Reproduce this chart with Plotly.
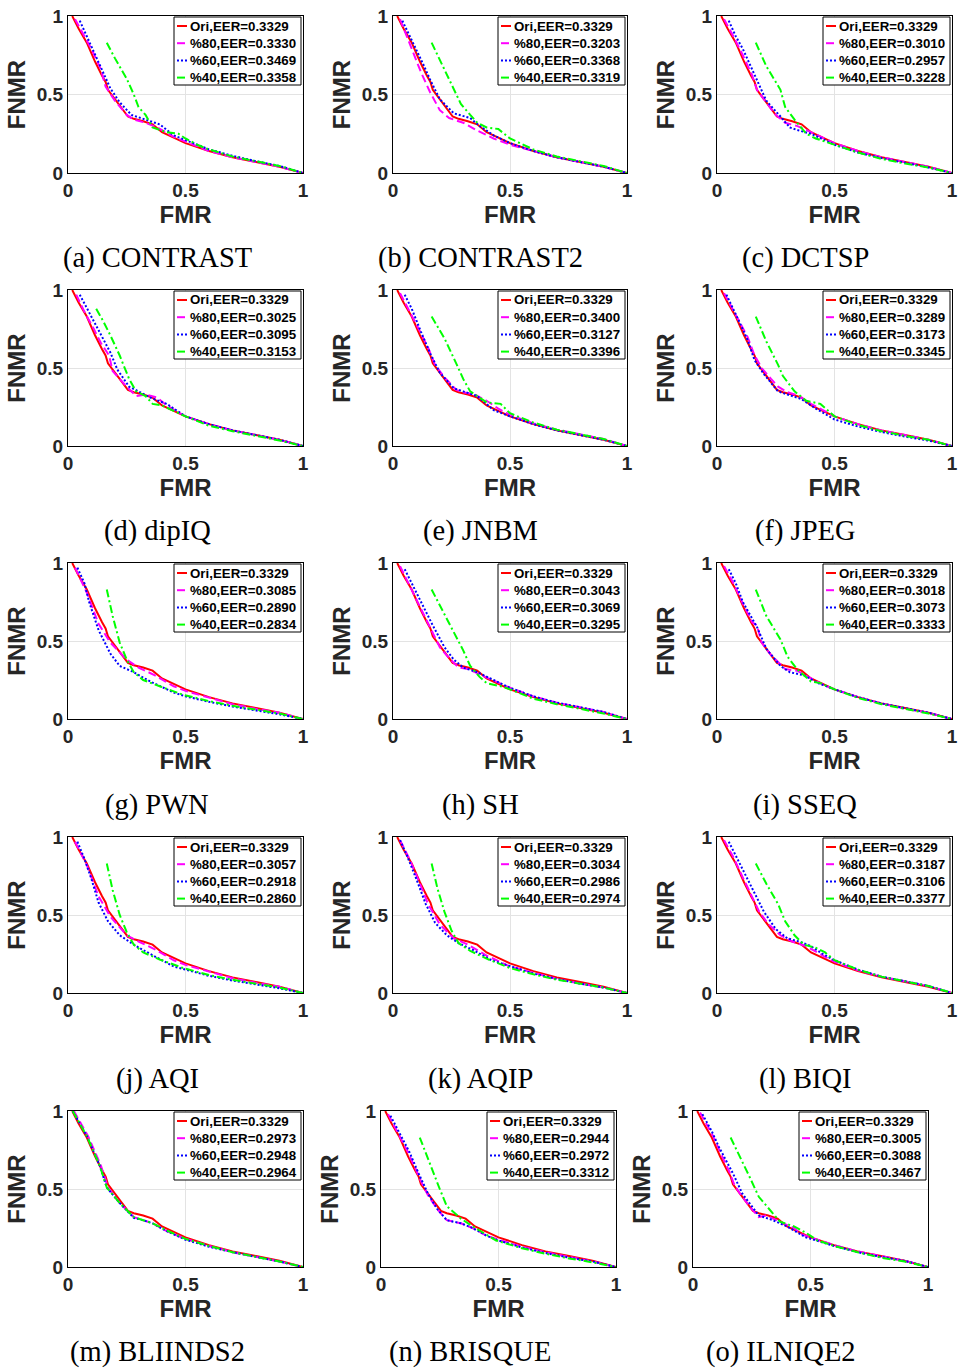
import plotly.graph_objects as go

# ---------------- data ----------------
PANELS = ["(a) CONTRAST", "(b) CONTRAST2", "(c) DCTSP", "(d) dipIQ", "(e) JNBM", "(f) JPEG",
          "(g) PWN", "(h) SH", "(i) SSEQ", "(j) AQI", "(k) AQIP", "(l) BIQI",
          "(m) BLIINDS2", "(n) BRISQUE", "(o) ILNIQE2"]
SERIES = ["Ori", "%80", "%60", "%40"]
EER_ORI = "0.3329"
EER_80 = ["0.3330", "0.3203", "0.3010", "0.3025", "0.3400", "0.3289", "0.3085", "0.3043", "0.3018",
          "0.3057", "0.3034", "0.3187", "0.2973", "0.2944", "0.3005"]
EER_60 = ["0.3469", "0.3368", "0.2957", "0.3095", "0.3127", "0.3173", "0.2890", "0.3069", "0.3073",
          "0.2918", "0.2986", "0.3106", "0.2948", "0.2972", "0.3088"]
EER_40 = ["0.3358", "0.3319", "0.3228", "0.3153", "0.3396", "0.3345", "0.2834", "0.3295", "0.3333",
          "0.2860", "0.2974", "0.3377", "0.2964", "0.3312", "0.3467"]
TICKS = [0, 0.5, 1]
TICK_TEXT = ["0", "0.5", "1"]

# Original curve (same in every panel)
ORI_X = [0.018, 0.045, 0.08, 0.115, 0.145, 0.16, 0.17, 0.20, 0.255, 0.28, 0.32, 0.36, 0.40, 0.45, 0.50, 0.60, 0.70, 0.80, 0.90, 1.0]
ORI_Y = [1.0, 0.92, 0.83, 0.71, 0.62, 0.58, 0.53, 0.47, 0.36, 0.345, 0.33, 0.31, 0.26, 0.225, 0.19, 0.14, 0.10, 0.07, 0.04, 0.0]

# (a) CONTRAST
A80_X = [0.03, 0.06, 0.1, 0.14, 0.16, 0.2, 0.25, 0.28, 0.33, 0.38, 0.45, 0.5, 0.6, 0.7, 0.8, 0.9, 1.0]
A80_Y = [0.98, 0.90, 0.79, 0.66, 0.55, 0.46, 0.37, 0.34, 0.32, 0.29, 0.23, 0.20, 0.14, 0.10, 0.07, 0.04, 0.0]
A60_X = [0.05, 0.08, 0.12, 0.16, 0.18, 0.22, 0.27, 0.33, 0.39, 0.45, 0.5, 0.6, 0.7, 0.8, 0.9, 1.0]
A60_Y = [0.97, 0.87, 0.74, 0.61, 0.54, 0.45, 0.37, 0.34, 0.31, 0.24, 0.21, 0.15, 0.11, 0.075, 0.045, 0.0]
A40_X = [0.165, 0.2, 0.25, 0.28, 0.30, 0.33, 0.36, 0.42, 0.47, 0.5, 0.55, 0.6, 0.7, 0.8, 0.9, 1.0]
A40_Y = [0.83, 0.73, 0.60, 0.50, 0.42, 0.37, 0.29, 0.26, 0.25, 0.22, 0.18, 0.15, 0.105, 0.075, 0.045, 0.0]
# (b) CONTRAST2
B80_X = [0.03, 0.07, 0.12, 0.16, 0.2, 0.24, 0.3, 0.36, 0.43, 0.5, 0.6, 0.7, 0.8, 0.9, 1.0]
B80_Y = [0.98, 0.83, 0.64, 0.51, 0.40, 0.35, 0.32, 0.27, 0.22, 0.18, 0.14, 0.10, 0.07, 0.04, 0.0]
B60_X = [0.04, 0.07, 0.1, 0.13, 0.16, 0.2, 0.26, 0.33, 0.37, 0.43, 0.5, 0.6, 0.7, 0.8, 0.9, 1.0]
B60_Y = [0.97, 0.88, 0.79, 0.69, 0.59, 0.47, 0.38, 0.35, 0.30, 0.24, 0.19, 0.14, 0.10, 0.07, 0.04, 0.0]
B40_X = [0.165, 0.21, 0.26, 0.29, 0.33, 0.36, 0.40, 0.45, 0.5, 0.6, 0.7, 0.8, 0.9, 1.0]
B40_Y = [0.83, 0.69, 0.54, 0.44, 0.37, 0.32, 0.29, 0.28, 0.22, 0.15, 0.105, 0.075, 0.045, 0.0]
# (c) DCTSP
C80_X = [0.03, 0.07, 0.11, 0.15, 0.17, 0.21, 0.25, 0.29, 0.34, 0.4, 0.5, 0.6, 0.7, 0.8, 0.9, 1.0]
C80_Y = [0.98, 0.87, 0.75, 0.62, 0.53, 0.45, 0.37, 0.32, 0.30, 0.26, 0.19, 0.14, 0.10, 0.07, 0.04, 0.0]
C60_X = [0.05, 0.08, 0.11, 0.14, 0.17, 0.21, 0.27, 0.31, 0.35, 0.40, 0.5, 0.6, 0.7, 0.8, 0.9, 1.0]
C60_Y = [0.97, 0.87, 0.79, 0.69, 0.59, 0.46, 0.36, 0.29, 0.27, 0.25, 0.18, 0.13, 0.095, 0.065, 0.035, 0.0]
C40_X = [0.165, 0.21, 0.27, 0.29, 0.33, 0.38, 0.42, 0.5, 0.6, 0.7, 0.8, 0.9, 1.0]
C40_Y = [0.83, 0.68, 0.53, 0.42, 0.34, 0.25, 0.22, 0.18, 0.13, 0.09, 0.06, 0.035, 0.0]
# (d) dipIQ
D80_X = [0.035, 0.07, 0.11, 0.14, 0.175, 0.19, 0.25, 0.29, 0.33, 0.38, 0.42, 0.5, 0.6, 0.7, 0.8, 0.9, 1.0]
D80_Y = [0.97, 0.86, 0.75, 0.66, 0.58, 0.48, 0.38, 0.32, 0.33, 0.31, 0.26, 0.19, 0.14, 0.10, 0.07, 0.04, 0.0]
D60_X = [0.05, 0.085, 0.12, 0.15, 0.18, 0.21, 0.26, 0.3, 0.35, 0.42, 0.5, 0.6, 0.7, 0.8, 0.9, 1.0]
D60_Y = [0.97, 0.87, 0.77, 0.69, 0.60, 0.49, 0.38, 0.35, 0.31, 0.27, 0.19, 0.14, 0.10, 0.07, 0.04, 0.0]
D40_X = [0.12, 0.15, 0.18, 0.22, 0.26, 0.29, 0.33, 0.36, 0.40, 0.46, 0.5, 0.6, 0.7, 0.8, 0.9, 1.0]
D40_Y = [0.88, 0.80, 0.71, 0.58, 0.43, 0.35, 0.32, 0.27, 0.26, 0.22, 0.19, 0.13, 0.095, 0.065, 0.035, 0.0]
# (e) JNBM
E80_X = [0.03, 0.07, 0.11, 0.15, 0.18, 0.22, 0.27, 0.3, 0.35, 0.4, 0.45, 0.5, 0.6, 0.7, 0.8, 0.9, 1.0]
E80_Y = [0.98, 0.87, 0.75, 0.63, 0.52, 0.44, 0.36, 0.345, 0.33, 0.29, 0.24, 0.20, 0.145, 0.105, 0.075, 0.045, 0.0]
E60_X = [0.05, 0.08, 0.12, 0.16, 0.2, 0.26, 0.3, 0.36, 0.43, 0.5, 0.6, 0.7, 0.8, 0.9, 1.0]
E60_Y = [0.97, 0.88, 0.73, 0.59, 0.47, 0.37, 0.35, 0.32, 0.23, 0.19, 0.14, 0.10, 0.07, 0.04, 0.0]
E40_X = [0.165, 0.22, 0.27, 0.30, 0.33, 0.36, 0.40, 0.46, 0.5, 0.6, 0.7, 0.8, 0.9, 1.0]
E40_Y = [0.83, 0.69, 0.53, 0.43, 0.35, 0.32, 0.28, 0.27, 0.21, 0.15, 0.105, 0.075, 0.045, 0.0]
# (f) JPEG
F80_X = [0.03, 0.07, 0.1, 0.13, 0.16, 0.19, 0.23, 0.26, 0.3, 0.35, 0.4, 0.46, 0.5, 0.6, 0.7, 0.8, 0.9, 1.0]
F80_Y = [0.98, 0.87, 0.79, 0.70, 0.58, 0.50, 0.43, 0.38, 0.345, 0.32, 0.27, 0.22, 0.19, 0.14, 0.10, 0.07, 0.04, 0.0]
F60_X = [0.04, 0.07, 0.1, 0.13, 0.16, 0.2, 0.26, 0.3, 0.36, 0.42, 0.5, 0.6, 0.7, 0.8, 0.9, 1.0]
F60_Y = [0.97, 0.88, 0.78, 0.68, 0.55, 0.46, 0.35, 0.33, 0.30, 0.24, 0.17, 0.125, 0.09, 0.06, 0.035, 0.0]
F40_X = [0.165, 0.21, 0.26, 0.28, 0.33, 0.38, 0.44, 0.5, 0.6, 0.7, 0.8, 0.9, 1.0]
F40_Y = [0.83, 0.67, 0.52, 0.45, 0.35, 0.29, 0.27, 0.19, 0.135, 0.095, 0.065, 0.04, 0.0]
# (g) PWN
G80_X = [0.03, 0.08, 0.13, 0.18, 0.25, 0.30, 0.37, 0.45, 0.5, 0.6, 0.7, 0.8, 0.9, 1.0]
G80_Y = [0.97, 0.81, 0.61, 0.49, 0.38, 0.33, 0.28, 0.21, 0.18, 0.135, 0.095, 0.065, 0.04, 0.0]
G60_X = [0.04, 0.07, 0.09, 0.13, 0.18, 0.22, 0.28, 0.35, 0.45, 0.5, 0.6, 0.7, 0.8, 0.9, 1.0]
G60_Y = [0.97, 0.87, 0.75, 0.57, 0.42, 0.34, 0.30, 0.24, 0.17, 0.145, 0.11, 0.08, 0.055, 0.03, 0.0]
G40_X = [0.165, 0.19, 0.22, 0.25, 0.28, 0.32, 0.39, 0.49, 0.6, 0.7, 0.8, 0.9, 1.0]
G40_Y = [0.83, 0.66, 0.49, 0.38, 0.30, 0.25, 0.21, 0.155, 0.115, 0.085, 0.06, 0.035, 0.0]
# (h) SH
H80_X = [0.03, 0.07, 0.11, 0.15, 0.18, 0.2, 0.24, 0.28, 0.32, 0.38, 0.45, 0.5, 0.6, 0.7, 0.8, 0.9, 1.0]
H80_Y = [0.98, 0.86, 0.74, 0.62, 0.53, 0.46, 0.39, 0.33, 0.32, 0.28, 0.23, 0.20, 0.145, 0.105, 0.075, 0.045, 0.0]
H60_X = [0.05, 0.08, 0.12, 0.17, 0.22, 0.26, 0.3, 0.36, 0.43, 0.5, 0.6, 0.7, 0.8, 0.9, 1.0]
H60_Y = [0.96, 0.87, 0.74, 0.60, 0.46, 0.38, 0.33, 0.30, 0.25, 0.20, 0.145, 0.105, 0.075, 0.045, 0.0]
H40_X = [0.165, 0.22, 0.27, 0.30, 0.33, 0.37, 0.40, 0.46, 0.5, 0.6, 0.7, 0.8, 0.9, 1.0]
H40_Y = [0.83, 0.67, 0.52, 0.44, 0.34, 0.27, 0.23, 0.21, 0.19, 0.13, 0.095, 0.065, 0.035, 0.0]
# (i) SSEQ
I80_X = [0.03, 0.07, 0.11, 0.15, 0.17, 0.19, 0.23, 0.27, 0.29, 0.34, 0.4, 0.45, 0.5, 0.6, 0.7, 0.8, 0.9, 1.0]
I80_Y = [0.98, 0.87, 0.74, 0.62, 0.60, 0.49, 0.41, 0.35, 0.32, 0.31, 0.26, 0.22, 0.19, 0.14, 0.10, 0.065, 0.04, 0.0]
I60_X = [0.05, 0.08, 0.11, 0.17, 0.21, 0.27, 0.31, 0.37, 0.43, 0.5, 0.6, 0.7, 0.8, 0.9, 1.0]
I60_Y = [0.96, 0.87, 0.75, 0.59, 0.45, 0.34, 0.30, 0.28, 0.23, 0.19, 0.14, 0.10, 0.07, 0.04, 0.0]
I40_X = [0.165, 0.21, 0.27, 0.30, 0.34, 0.40, 0.44, 0.5, 0.6, 0.7, 0.8, 0.9, 1.0]
I40_Y = [0.83, 0.66, 0.51, 0.40, 0.32, 0.24, 0.23, 0.19, 0.135, 0.095, 0.065, 0.035, 0.0]
# (j) AQI
J80_X = [0.03, 0.08, 0.13, 0.18, 0.25, 0.30, 0.37, 0.45, 0.5, 0.6, 0.7, 0.8, 0.9, 1.0]
J80_Y = [0.97, 0.82, 0.62, 0.49, 0.37, 0.33, 0.28, 0.21, 0.18, 0.135, 0.095, 0.065, 0.04, 0.0]
J60_X = [0.04, 0.07, 0.10, 0.13, 0.17, 0.22, 0.28, 0.35, 0.45, 0.5, 0.6, 0.7, 0.8, 0.9, 1.0]
J60_Y = [0.97, 0.86, 0.73, 0.58, 0.46, 0.37, 0.31, 0.25, 0.17, 0.15, 0.11, 0.08, 0.055, 0.03, 0.0]
J40_X = [0.165, 0.19, 0.22, 0.25, 0.28, 0.32, 0.39, 0.49, 0.6, 0.7, 0.8, 0.9, 1.0]
J40_Y = [0.83, 0.66, 0.50, 0.39, 0.31, 0.26, 0.215, 0.16, 0.115, 0.085, 0.06, 0.035, 0.0]
# (k) AQIP
K80_X = [0.03, 0.07, 0.11, 0.15, 0.2, 0.26, 0.32, 0.4, 0.5, 0.6, 0.7, 0.8, 0.9, 1.0]
K80_Y = [0.98, 0.86, 0.72, 0.57, 0.44, 0.35, 0.31, 0.24, 0.17, 0.13, 0.09, 0.06, 0.035, 0.0]
K60_X = [0.03, 0.06, 0.1, 0.14, 0.18, 0.23, 0.28, 0.35, 0.42, 0.5, 0.6, 0.7, 0.8, 0.9, 1.0]
K60_Y = [0.98, 0.88, 0.73, 0.57, 0.45, 0.37, 0.32, 0.27, 0.21, 0.17, 0.125, 0.09, 0.06, 0.035, 0.0]
K40_X = [0.165, 0.19, 0.22, 0.25, 0.28, 0.33, 0.4, 0.5, 0.6, 0.7, 0.8, 0.9, 1.0]
K40_Y = [0.83, 0.67, 0.52, 0.40, 0.32, 0.27, 0.22, 0.16, 0.12, 0.085, 0.06, 0.035, 0.0]
# (l) BIQI
L80_X = [0.03, 0.07, 0.11, 0.15, 0.18, 0.22, 0.27, 0.32, 0.38, 0.45, 0.5, 0.6, 0.7, 0.8, 0.9, 1.0]
L80_Y = [0.98, 0.87, 0.74, 0.62, 0.52, 0.44, 0.37, 0.33, 0.30, 0.24, 0.20, 0.145, 0.105, 0.075, 0.045, 0.0]
L60_X = [0.05, 0.08, 0.12, 0.16, 0.2, 0.25, 0.3, 0.35, 0.4, 0.45, 0.5, 0.6, 0.7, 0.8, 0.9, 1.0]
L60_Y = [0.97, 0.88, 0.76, 0.64, 0.52, 0.41, 0.35, 0.33, 0.30, 0.25, 0.21, 0.15, 0.105, 0.075, 0.045, 0.0]
L40_X = [0.165, 0.21, 0.26, 0.29, 0.33, 0.37, 0.42, 0.46, 0.5, 0.6, 0.7, 0.8, 0.9, 1.0]
L40_Y = [0.83, 0.70, 0.57, 0.46, 0.37, 0.31, 0.29, 0.26, 0.21, 0.15, 0.105, 0.075, 0.045, 0.0]
# (m) BLIINDS2
M80_X = [0.025, 0.085, 0.14, 0.17, 0.22, 0.28, 0.32, 0.36, 0.42, 0.5, 0.6, 0.7, 0.8, 0.9, 1.0]
M80_Y = [1.0, 0.84, 0.65, 0.51, 0.41, 0.32, 0.30, 0.28, 0.23, 0.18, 0.135, 0.095, 0.065, 0.035, 0.0]
M60_X = [0.02, 0.08, 0.135, 0.165, 0.22, 0.28, 0.32, 0.36, 0.42, 0.5, 0.6, 0.7, 0.8, 0.9, 1.0]
M60_Y = [1.0, 0.84, 0.65, 0.51, 0.41, 0.315, 0.30, 0.28, 0.23, 0.175, 0.13, 0.095, 0.065, 0.035, 0.0]
M40_X = [0.02, 0.08, 0.135, 0.165, 0.22, 0.28, 0.32, 0.36, 0.42, 0.5, 0.6, 0.7, 0.8, 0.9, 1.0]
M40_Y = [1.0, 0.84, 0.65, 0.51, 0.41, 0.32, 0.30, 0.28, 0.235, 0.18, 0.135, 0.095, 0.065, 0.035, 0.0]
# (n) BRISQUE
N80_X = [0.03, 0.07, 0.11, 0.15, 0.17, 0.2, 0.24, 0.28, 0.34, 0.39, 0.45, 0.5, 0.6, 0.7, 0.8, 0.9, 1.0]
N80_Y = [0.98, 0.87, 0.75, 0.62, 0.55, 0.46, 0.37, 0.30, 0.28, 0.25, 0.20, 0.175, 0.13, 0.095, 0.065, 0.035, 0.0]
N60_X = [0.04, 0.08, 0.12, 0.16, 0.2, 0.24, 0.28, 0.34, 0.39, 0.45, 0.5, 0.6, 0.7, 0.8, 0.9, 1.0]
N60_Y = [0.97, 0.86, 0.74, 0.60, 0.47, 0.37, 0.30, 0.28, 0.25, 0.20, 0.17, 0.125, 0.09, 0.06, 0.035, 0.0]
N40_X = [0.165, 0.21, 0.25, 0.28, 0.34, 0.39, 0.49, 0.6, 0.7, 0.8, 0.9, 1.0]
N40_Y = [0.83, 0.65, 0.50, 0.39, 0.31, 0.26, 0.17, 0.12, 0.085, 0.055, 0.03, 0.0]
# (o) ILNIQE2
O80_X = [0.03, 0.085, 0.13, 0.155, 0.175, 0.2, 0.24, 0.28, 0.31, 0.37, 0.43, 0.46, 0.5, 0.6, 0.7, 0.8, 0.9, 1.0]
O80_Y = [0.99, 0.84, 0.69, 0.61, 0.53, 0.47, 0.39, 0.32, 0.33, 0.29, 0.25, 0.21, 0.19, 0.14, 0.10, 0.07, 0.04, 0.0]
O60_X = [0.04, 0.08, 0.11, 0.17, 0.21, 0.26, 0.28, 0.34, 0.4, 0.48, 0.6, 0.7, 0.8, 0.9, 1.0]
O60_Y = [0.98, 0.87, 0.77, 0.60, 0.47, 0.37, 0.33, 0.30, 0.26, 0.19, 0.135, 0.095, 0.065, 0.04, 0.0]
O40_X = [0.16, 0.2, 0.24, 0.28, 0.34, 0.37, 0.43, 0.48, 0.53, 0.6, 0.7, 0.8, 0.9, 1.0]
O40_Y = [0.83, 0.71, 0.58, 0.45, 0.34, 0.29, 0.26, 0.22, 0.17, 0.135, 0.095, 0.06, 0.035, 0.0]

CURVES_80 = [(A80_X, A80_Y), (B80_X, B80_Y), (C80_X, C80_Y), (D80_X, D80_Y), (E80_X, E80_Y),
             (F80_X, F80_Y), (G80_X, G80_Y), (H80_X, H80_Y), (I80_X, I80_Y), (J80_X, J80_Y),
             (K80_X, K80_Y), (L80_X, L80_Y), (M80_X, M80_Y), (N80_X, N80_Y), (O80_X, O80_Y)]
CURVES_60 = [(A60_X, A60_Y), (B60_X, B60_Y), (C60_X, C60_Y), (D60_X, D60_Y), (E60_X, E60_Y),
             (F60_X, F60_Y), (G60_X, G60_Y), (H60_X, H60_Y), (I60_X, I60_Y), (J60_X, J60_Y),
             (K60_X, K60_Y), (L60_X, L60_Y), (M60_X, M60_Y), (N60_X, N60_Y), (O60_X, O60_Y)]
CURVES_40 = [(A40_X, A40_Y), (B40_X, B40_Y), (C40_X, C40_Y), (D40_X, D40_Y), (E40_X, E40_Y),
             (F40_X, F40_Y), (G40_X, G40_Y), (H40_X, H40_Y), (I40_X, I40_Y), (J40_X, J40_Y),
             (K40_X, K40_Y), (L40_X, L40_Y), (M40_X, M40_Y), (N40_X, N40_Y), (O40_X, O40_Y)]

# ---------------- layout ----------------
W, H = 961, 1370
COL_X = [(68, 303), (393, 627), (717, 952)]
COL_X_LAST = [(68, 303), (381, 616), (693, 928)]
ROW_Y = [(16, 173), (290, 446), (563, 719), (837, 993), (1111, 1267)]
CAP_X = [157, 480, 805]
CAP_X_LAST = [157, 470, 781]
CAP_Y = [258, 531, 805, 1079, 1352]
LEG_W, LEG_H, LEG_ROW = 127, 68, 17.2

STYLES = [
    dict(color="#FF0000", width=2, dash="solid"),
    dict(color="#FF00FF", width=2, dash="8px,4px"),
    dict(color="#0000FF", width=2, dash="2px,2px"),
    dict(color="#00FF00", width=2, dash="8px,3px,2px,3px"),
]

SANS = "Liberation Sans"
TXT = "#262626"


def px(x):
    return x / W


def py(y):
    return 1 - y / H


fig = go.Figure()
layout = dict(width=W, height=H, margin=dict(l=0, r=0, t=0, b=0, pad=0, autoexpand=False),
              paper_bgcolor="white", plot_bgcolor="white", showlegend=False)
annotations = []
shapes = []

for i, name in enumerate(PANELS):
    r, c = divmod(i, 3)
    x0, x1 = (COL_X_LAST if r == 4 else COL_X)[c]
    y0, y1 = ROW_Y[r]
    k = "" if i == 0 else str(i + 1)
    curves = [(ORI_X, ORI_Y), CURVES_80[i], CURVES_60[i], CURVES_40[i]]
    eers = [EER_ORI, EER_80[i], EER_60[i], EER_40[i]]

    # legend box (drawn manually to match the compact MATLAB legend)
    lr = x1 - 2
    ll = lr - LEG_W
    lt = y0 + 1
    shapes.append(dict(type="rect", xref="paper", yref="paper", x0=px(ll), x1=px(lr),
                       y0=py(lt + LEG_H), y1=py(lt), line=dict(color="black", width=1),
                       fillcolor="white", layer="above"))

    for s, ((xs, ys), eer) in enumerate(zip(curves, eers)):
        label = f"{SERIES[s]},EER={eer}"
        fig.add_trace(go.Scatter(x=xs, y=ys, mode="lines", name=label,
                                 line=STYLES[s], xaxis="x" + k, yaxis="y" + k,
                                 hoverinfo="skip"))
        cy = lt + 9 + s * LEG_ROW
        shapes.append(dict(type="line", xref="paper", yref="paper", x0=px(ll + 3), x1=px(ll + 13),
                           y0=py(cy), y1=py(cy), layer="above",
                           line=dict(color=STYLES[s]["color"], width=2, dash=STYLES[s]["dash"])))
        annotations.append(dict(text=label, x=px(ll + 14), y=py(cy), xref="paper", yref="paper",
                                xanchor="left", yanchor="middle", showarrow=False,
                                font=dict(family=SANS, size=13.3, color="black", weight="bold")))

    axis_common = dict(range=[0, 1], tickvals=TICKS, ticktext=TICK_TEXT, showgrid=True,
                       gridcolor="#e3e3e3", gridwidth=1, showline=True, mirror=True,
                       linecolor="black", linewidth=1, zeroline=False, ticks="",
                       automargin=False,
                       tickfont=dict(family=SANS, size=19, color=TXT, weight="bold"),
                       fixedrange=True)
    layout["xaxis" + k] = dict(axis_common, domain=[px(x0), px(x1)], anchor="y" + k,
                               title=dict(text="FMR", standoff=4,
                                          font=dict(family=SANS, size=24, color=TXT, weight="bold")))
    layout["yaxis" + k] = dict(axis_common, domain=[py(y1), py(y0)], anchor="x" + k,
                               title=dict(text="FNMR", standoff=4,
                                          font=dict(family=SANS, size=24, color=TXT, weight="bold")))
    cx = (CAP_X_LAST if r == 4 else CAP_X)[c]
    annotations.append(dict(text=name, x=px(cx), y=py(CAP_Y[r]), xref="paper", yref="paper",
                            xanchor="center", yanchor="middle", showarrow=False,
                            font=dict(family="Liberation Serif", size=28.5, color="black")))

layout["annotations"] = annotations
layout["shapes"] = shapes
fig.update_layout(**layout)
fig.write_html("out.html", config={"displayModeBar": False},
               post_script="}); document.body.style.margin='0'; (function(){")
